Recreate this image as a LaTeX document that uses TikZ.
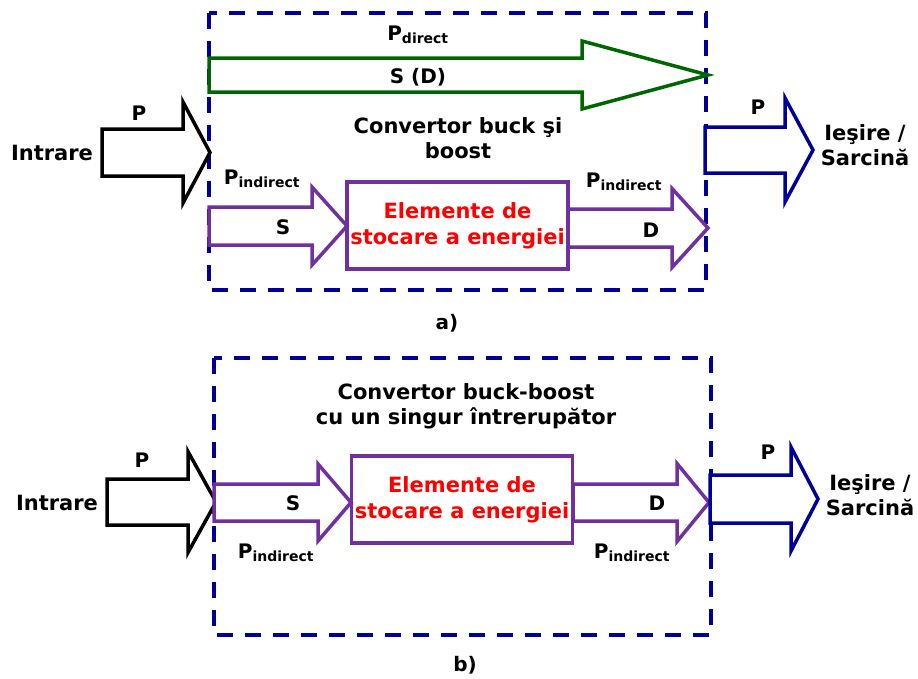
\documentclass[tikz,border=0pt]{standalone}
\usepackage{fontspec}
\setmainfont{DejaVu Sans}
\usepackage{tikz}
\usetikzlibrary{positioning}
\usepackage{xcolor}

\definecolor{frameblue}{RGB}{0,0,153}
\definecolor{flowgreen}{RGB}{0,102,0}
\definecolor{flowpurple}{RGB}{112,48,160}

% block arrow: style, x0, y centre, shaft half, head x, head half, tip x
\newcommand{\blockarrow}[7]{%
  \draw[#1] ({#2},{#3-#4}) -- ({#5},{#3-#4}) -- ({#5},{#3-#6}) -- ({#7},{#3})
    -- ({#5},{#3+#6}) -- ({#5},{#3+#4}) -- ({#2},{#3+#4}) -- cycle;}

\begin{document}
\begin{tikzpicture}[
    x=1pt, y=-1pt,
    txt/.style={font=\fontsize{21}{25}\selectfont\bfseries, align=center, inner sep=0pt},
    lbl/.style={font=\fontsize{20}{24}\selectfont\bfseries, inner sep=0pt},
    storebox/.style={draw=flowpurple, line width=3.5pt, minimum width=221pt, minimum height=87pt,
                align=center, text=red, font=\fontsize{21}{26}\selectfont\bfseries},
    frame/.style={draw=frameblue, line width=3.5pt, dash pattern=on 16pt off 12pt},
    flow/.style={line width=3.5pt, miter limit=10, fill=white},
]
\useasboundingbox (0,0) rectangle (918,678);

% a)
\draw[frame] (209,13) rectangle (706,290);
\blockarrow{flow, draw=flowgreen}{209}{75}{17}{582}{34}{708}
\blockarrow{flow, draw=black}{102}{152.5}{23.5}{183}{50.5}{210}
\blockarrow{flow, draw=flowpurple}{209}{226}{19}{312}{39}{347}
\blockarrow{flow, draw=flowpurple}{568}{228}{19}{672}{39.5}{708}
\blockarrow{flow, draw=frameblue}{705}{150}{23}{785}{52}{813}
\node[storebox] (storeA) at (457.5,225.5) {Elemente de\\stocare a energiei};
\node[lbl] (pdirA) at (418,35) {P\textsubscript{direct}};
\node[lbl] (sdA) at (418,77) {S (D)};
\node[lbl] (pinA) at (139,113) {P};
\node[txt] (inA) at (52,153) {Intrare};
\node[txt] (convA) at (458,138) {Convertor buck şi\\boost};
\node[lbl] (pindA) at (262,179) {P\textsubscript{indirect}};
\node[lbl] (sA) at (283,227) {S};
\node[lbl] (pindA2) at (624,182) {P\textsubscript{indirect}};
\node[lbl] (dA) at (651,230) {D};
\node[lbl] (poutA) at (758,107) {P};
\node[txt] (outA) at (865,145.5) {Ieşire /\\Sarcină};
\node[lbl] (capA) at (447,323) {a)};

% b)
\draw[frame] (214,358) rectangle (711,635);
\blockarrow{flow, draw=black}{107}{502}{23}{188}{50.5}{216}
\blockarrow{flow, draw=flowpurple}{214}{502.5}{18.5}{318}{38.5}{351}
\blockarrow{flow, draw=flowpurple}{573}{502.5}{18.5}{677}{39}{709}
\blockarrow{flow, draw=frameblue}{710}{499}{24}{791}{52}{818}
\node[storebox] (storeB) at (462,499.5) {Elemente de\\stocare a energiei};
\node[txt] (convB) at (466,406) {Convertor buck-boost\\cu un singur întrerupător};
\node[lbl] (pinB) at (142,460) {P};
\node[txt] (inB) at (57,503) {Intrare};
\node[lbl] (sB) at (293,503) {S};
\node[lbl] (pindB) at (276,553) {P\textsubscript{indirect}};
\node[lbl] (dB) at (657,503) {D};
\node[lbl] (pindB2) at (632,553) {P\textsubscript{indirect}};
\node[lbl] (poutB) at (768,452) {P};
\node[txt] (outB) at (870,495.5) {Ieşire /\\Sarcină};
\node[lbl] (capB) at (465,665) {b)};
\end{tikzpicture}
\end{document}
